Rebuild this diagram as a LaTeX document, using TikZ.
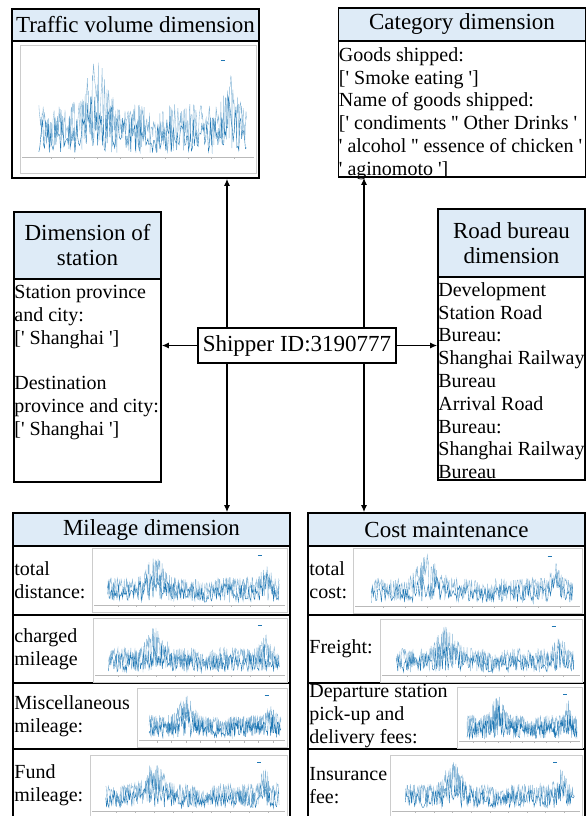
\documentclass[tikz,border=0pt]{standalone}
\usepackage{fontspec}
\setmainfont{Liberation Serif}
\usetikzlibrary{arrows.meta}
\definecolor{HeadBlue}{RGB}{222,235,247}
\definecolor{ChartBlue}{RGB}{31,119,180}
\newcommand\q{\textquotesingle}
\newcommand\headfont{\fontsize{23}{25}\selectfont}
\newcommand\bodyfont{\fontsize{20}{22.8}\selectfont}
% small time-series chart: x1, y1, x2, y2, seed
\newcommand\tschart[5]{%
  \pgfmathsetmacro\chx{#1+0.08*(#3-#1)}%
  \pgfmathsetmacro\chw{0.88*(#3-#1)}%
  \pgfmathsetmacro\chy{#4-0.14*(#4-#2)}%
  \pgfmathsetmacro\chh{0.8*(#4-#2)}%
  \draw[chartframe] (#1,#2) rectangle (#3,#4);
  \draw[chartaxis] ({#1+2},{\chy+2}) -- ({#3-2},{\chy+2});
  \foreach \k in {0,...,8}
    \draw[chartaxis] ({\chx+0.06*\chw+\k*0.11*\chw},{\chy+2}) -- ++(0,2);
  \pgfmathsetseed{#5}%
  \draw[chartlight] plot[domain=0:1, samples=380, variable=\t]
    ({\chx+\chw*\t}, {\chy-\chh*env(\t)*rnd^0.6});
  \draw[chartline] plot[domain=0:1, samples=220, variable=\t]
    ({\chx+\chw*\t}, {\chy-\chh*env(\t)*(0.05+0.7*rnd)});
  \draw[ChartBlue, line width=0.6pt] ({#3-0.15*(#3-#1)},{#2+0.12*(#4-#2)}) -- ++(4,0);
}
\tikzset{
  headbox/.style={draw, line width=1.6pt, fill=HeadBlue, font=\headfont, align=center, inner sep=0pt},
  bodybox/.style={draw, line width=1.6pt, fill=white, inner sep=0pt},
  bodytext/.style={font=\bodyfont, align=left, inner sep=1pt, anchor=north west},
  rowtext/.style={font=\bodyfont, align=left, inner sep=1pt, anchor=west},
  arr/.style={line width=1.3pt, -{Latex[length=7pt,width=6pt]}},
  chartframe/.style={draw=gray!40, line width=0.8pt, fill=white},
  chartaxis/.style={draw=gray!55, line width=0.6pt},
  chartlight/.style={draw=ChartBlue!55, line width=0.35pt},
  chartline/.style={draw=ChartBlue, line width=0.4pt},
}

\begin{document}
\begin{tikzpicture}[x=1pt, y=-1pt,
    declare function={env(\s)=min(1,0.5+0.45*exp(-(\s-0.28)*(\s-0.28)/0.004)+0.3*exp(-(\s-0.92)*(\s-0.92)/0.001)-0.12*exp(-(\s-0.56)*(\s-0.56)/0.002));}]
  \useasboundingbox (0,0) rectangle (588,816);
  \fill[white] (0,0) rectangle (588,816);

  % Traffic volume
  \node[headbox, minimum width=247pt, minimum height=32pt] (traffichead) at (135.5,25) {Traffic volume dimension};
  \node[bodybox, minimum width=247pt, minimum height=137pt] (traffic) at (135.5,109.5) {};
  \tschart{20}{45}{256}{173}{11}

  % Category
  \node[headbox, minimum width=247pt, minimum height=33pt] (categoryhead) at (462,24.5) {Category dimension};
  \node[bodybox, minimum width=247pt, minimum height=136pt] (category) at (462,109) {};
  \node[bodytext] (categorytext) at ([shift={(0pt,-6pt)}]category.north west)
    {Goods shipped:\\{[}\q{} Smoke eating \q{]}\\Name of goods shipped:\\{[}\q{} condiments \q\q{} Other Drinks \q\\\q{} alcohol \q\q{} essence of chicken \q\\\q{} aginomoto \q{]}};

  % Station
  \node[headbox, minimum width=147pt, minimum height=67pt] (stationhead) at (87.5,245.5) {Dimension of\\station};
  \node[bodybox, minimum width=147pt, minimum height=203pt] (station) at (87.5,380.5) {};
  \node[bodytext] (stationtext) at ([shift={(0pt,-6pt)}]station.north west)
    {Station province\\and city:\\{[}\q{} Shanghai \q{]}\\[22.8pt]Destination\\province and city:\\{[}\q{} Shanghai \q{]}};

  % Road bureau
  \node[headbox, minimum width=147pt, minimum height=68pt] (bureauhead) at (511.5,243) {Road bureau\\dimension};
  \node[bodybox, minimum width=147pt, minimum height=203pt] (bureau) at (511.5,378.5) {};
  \node[bodytext] (bureautext) at ([shift={(0pt,-5pt)}]bureau.north west)
    {Development\\Station Road\\Bureau:\\Shanghai Railway\\Bureau\\Arrival Road\\Bureau:\\Shanghai Railway\\Bureau};

  % Shipper
  \node[bodybox, font=\headfont, minimum width=198pt, minimum height=35pt] (shipper) at (297,345.5) {Shipper ID:3190777};

  % Mileage
  \node[headbox, minimum width=277pt, minimum height=33pt] (mileagehead) at (151.5,529.5) {Mileage dimension};
  \node[bodybox, minimum width=277pt, minimum height=69pt] (mileageA) at (151.5,580.5) {};
  \node[bodybox, minimum width=277pt, minimum height=68pt] (mileageB) at (151.5,649) {};
  \node[bodybox, minimum width=277pt, minimum height=66pt] (mileageC) at (151.5,716) {};
  \node[bodybox, minimum width=277pt, minimum height=73pt] (mileageD) at (151.5,785.5) {};
  \tschart{92}{548}{287}{612}{21}
  \tschart{93}{618}{287}{682}{22}
  \tschart{137}{688}{287}{747}{23}
  \tschart{90}{755}{287}{818}{24}
  \node[rowtext] (mileageAtext) at ([xshift=1pt]mileageA.west) {total\\distance:};
  \node[rowtext] (mileageBtext) at ([xshift=1pt]mileageB.west) {charged\\mileage};
  \node[rowtext] (mileageCtext) at ([xshift=1pt]mileageC.west) {Miscellaneous\\mileage:};
  \node[rowtext] (mileageDtext) at ([xshift=1pt]mileageD.west) {Fund\\mileage:};

  % Cost
  \node[headbox, minimum width=277pt, minimum height=33pt] (costhead) at (446.5,529.5) {Cost maintenance};
  \node[bodybox, minimum width=277pt, minimum height=69pt] (costA) at (446.5,580.5) {};
  \node[bodybox, minimum width=277pt, minimum height=68pt] (costB) at (446.5,649) {};
  \node[bodybox, minimum width=277pt, minimum height=66pt] (costC) at (446.5,716) {};
  \node[bodybox, minimum width=277pt, minimum height=73pt] (costD) at (446.5,785.5) {};
  \tschart{353}{548}{582}{613}{31}
  \tschart{380}{619}{582}{682}{32}
  \tschart{457}{687}{582}{748}{33}
  \tschart{390}{755}{582}{818}{34}
  \node[rowtext] (costAtext) at ([xshift=1pt]costA.west) {total\\cost:};
  \node[rowtext] (costBtext) at ([xshift=1pt]costB.west) {Freight:};
  \node[rowtext] (costCtext) at ([xshift=1pt]costC.west) {Departure station\\pick-up and\\delivery fees:};
  \node[rowtext] (costDtext) at ([xshift=1pt]costD.west) {Insurance\\fee:};

  % Connectors
  \coordinate (lcol) at (227,0);
  \coordinate (rcol) at (364,0);
  \draw[arr] (lcol |- shipper.north) -- (lcol |- traffic.south);
  \draw[arr] (lcol |- shipper.south) -- (lcol |- mileagehead.north);
  \draw[arr] (rcol |- shipper.north) -- (rcol |- category.south);
  \draw[arr] (rcol |- shipper.south) -- (rcol |- costhead.north);
  \draw[arr] (shipper.west) -- (station.east |- shipper.west);
  \draw[arr] (shipper.east) -- (bureau.west |- shipper.east);
\end{tikzpicture}
\end{document}
